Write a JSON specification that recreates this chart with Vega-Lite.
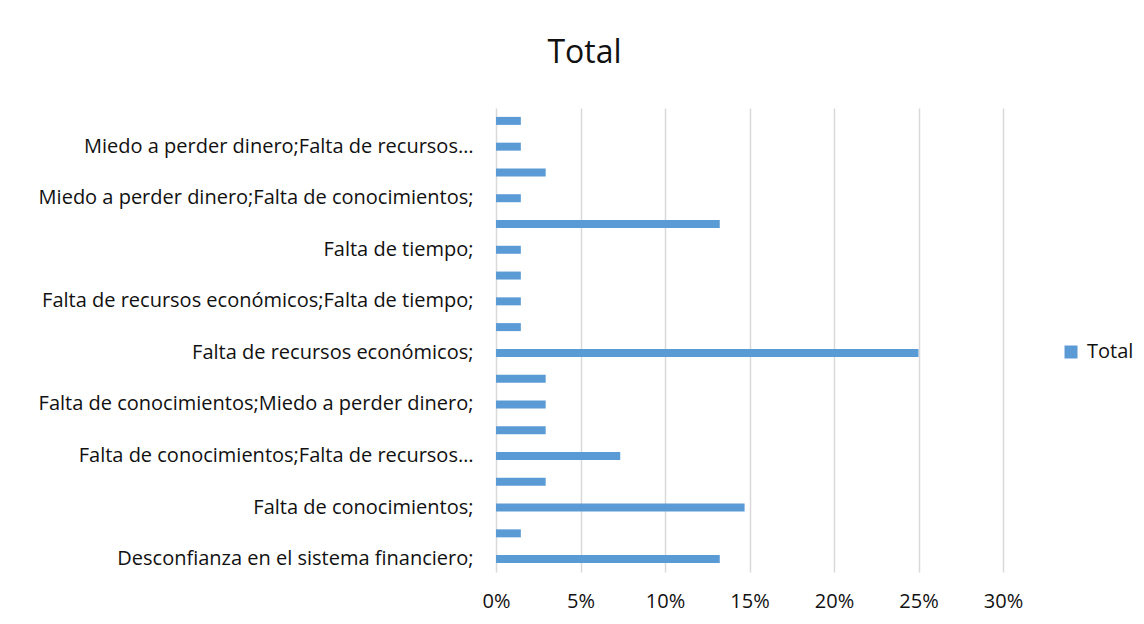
{
  "$schema": "https://vega.github.io/schema/vega-lite/v6.json",
  "width": 507,
  "height": 464,
  "autosize": {"type": "none"},
  "padding": {"left": 496, "top": 108, "right": 141, "bottom": 52},
  "background": "white",
  "title": {
    "text": "Total",
    "anchor": "middle",
    "dx": -165,
    "offset": 13,
    "baseline": "alphabetic",
    "font": "Open Sans",
    "fontSize": 32,
    "fontWeight": "normal",
    "color": "#111111"
  },
  "data": {
    "values": [
      {"categoria": "Miedo a perder dinero;Falta de tiempo;", "porcentaje": 0.0147},
      {"categoria": "Miedo a perder dinero;Falta de recursos…", "porcentaje": 0.0147},
      {"categoria": "Miedo a perder dinero;Falta de conocimientos;Falta de recursos económicos;", "porcentaje": 0.0294},
      {"categoria": "Miedo a perder dinero;Falta de conocimientos;", "porcentaje": 0.0147},
      {"categoria": "Miedo a perder dinero;", "porcentaje": 0.1324},
      {"categoria": "Falta de tiempo;", "porcentaje": 0.0147},
      {"categoria": "Falta de recursos económicos;Miedo a perder dinero;", "porcentaje": 0.0147},
      {"categoria": "Falta de recursos económicos;Falta de tiempo;", "porcentaje": 0.0147},
      {"categoria": "Falta de recursos económicos;Falta de conocimientos;", "porcentaje": 0.0147},
      {"categoria": "Falta de recursos económicos;", "porcentaje": 0.25},
      {"categoria": "Falta de conocimientos;Miedo a perder dinero;Falta de recursos económicos;", "porcentaje": 0.0294},
      {"categoria": "Falta de conocimientos;Miedo a perder dinero;", "porcentaje": 0.0294},
      {"categoria": "Falta de conocimientos;Falta de tiempo;", "porcentaje": 0.0294},
      {"categoria": "Falta de conocimientos;Falta de recursos…", "porcentaje": 0.0735},
      {"categoria": "Falta de conocimientos;Desconfianza en el sistema financiero;", "porcentaje": 0.0294},
      {"categoria": "Falta de conocimientos;", "porcentaje": 0.1471},
      {"categoria": "Desconfianza en el sistema financiero;Falta de conocimientos;", "porcentaje": 0.0147},
      {"categoria": "Desconfianza en el sistema financiero;", "porcentaje": 0.1324}
    ]
  },
  "mark": {"type": "bar", "color": "#5b9bd5"},
  "encoding": {
    "y": {
      "field": "categoria",
      "type": "nominal",
      "sort": null,
      "scale": {"paddingInner": 0.69, "paddingOuter": 0.345},
      "axis": {
        "title": null,
        "domain": false,
        "ticks": false,
        "grid": false,
        "labelPadding": 23,
        "labelFont": "Open Sans",
        "labelFontSize": 20,
        "labelColor": "#111111",
        "labelLimit": 500,
        "labelExpr": "indexof(['Desconfianza en el sistema financiero;', 'Falta de conocimientos;', 'Falta de conocimientos;Falta de recursos…', 'Falta de conocimientos;Miedo a perder dinero;', 'Falta de recursos económicos;', 'Falta de recursos económicos;Falta de tiempo;', 'Falta de tiempo;', 'Miedo a perder dinero;Falta de conocimientos;', 'Miedo a perder dinero;Falta de recursos…'], datum.value) >= 0 ? datum.value : ''"
      }
    },
    "x": {
      "field": "porcentaje",
      "type": "quantitative",
      "scale": {"domain": [0, 0.3], "nice": false},
      "axis": {
        "title": null,
        "domain": false,
        "ticks": false,
        "grid": true,
        "gridColor": "#d9d9d9",
        "gridWidth": 1.5,
        "values": [0, 0.05, 0.1, 0.15, 0.2, 0.25, 0.3],
        "format": ".0%",
        "labelFlush": false,
        "labelPadding": 19,
        "labelFont": "Open Sans",
        "labelFontSize": 20,
        "labelColor": "#111111"
      }
    },
    "color": {
      "datum": "Total",
      "scale": {"range": ["#5b9bd5"]},
      "legend": {
        "title": null,
        "orient": "none",
        "legendX": 565,
        "legendY": 234,
        "symbolType": "square",
        "symbolSize": 169,
        "symbolStrokeWidth": 0,
        "labelFont": "Open Sans",
        "labelFontSize": 20,
        "labelColor": "#111111",
        "labelOffset": 6
      }
    }
  },
  "config": {"view": {"stroke": null}}
}
